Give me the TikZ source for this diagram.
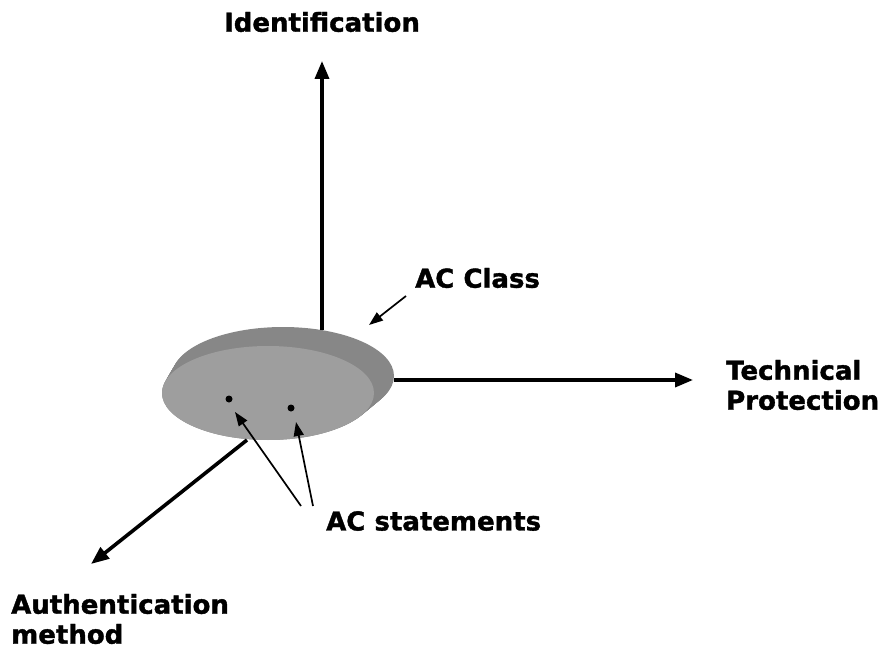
\documentclass[tikz,border=0pt]{standalone}
\usepackage{fontspec}
\setmainfont{DejaVu Sans}
\newfontfamily\heavyfont[FakeBold=1.4]{DejaVu Sans Bold}
\usetikzlibrary{arrows.meta}
\definecolor{rimgray}{HTML}{878787}
\definecolor{facegray}{HTML}{9E9E9E}
\begin{document}
\begin{tikzpicture}[x=1pt,y=-1pt,
  axis/.style={line width=3.6pt,-{Triangle[length=18pt,width=14pt]}},
  pointer/.style={line width=1.7pt,-{Triangle[length=14pt,width=10pt]}},
  lbl/.style={font=\fontsize{26}{30}\selectfont\heavyfont,inner sep=0pt},
  lblleft/.style={lbl,anchor=west,align=left}]
\useasboundingbox (0,0) rectangle (879,650);
% disk: dark rim swept from the back face to the front face, then the light front face
\foreach \t in {0,0.05,...,1.0001}
  \fill[rimgray] ({283-15*\t},{376+17*\t}) ellipse [x radius={111pt-5pt*\t}, y radius={49pt-2pt*\t}];
\fill[facegray] (268,393) ellipse [x radius=106pt, y radius=47pt];
% statement dots
\fill (229,399) circle [radius=3.5pt] coordinate (s1);
\fill (291,408) circle [radius=3.5pt] coordinate (s2);
% axis origins on the disk edge
\coordinate (oid) at (322,330);
\coordinate (otp) at (394,380);
\coordinate (oam) at (247,440);
\coordinate (tid) at (322,61);
\coordinate (ttp) at (693,380);
\coordinate (tam) at (91,564);
\draw[axis] (oid) -- (tid);
\draw[axis] (otp) -- (ttp);
\draw[axis] (oam) -- (tam);
% labels
\node[lbl] (id) at (322,22) {Identification};
\node[lblleft] (tp) at (726,385) {Technical\\Protection};
\node[lblleft] (am) at (11,619) {Authentication\\method};
\node[lbl,anchor=west] (acc) at (415,278) {AC Class};
\node[lbl,anchor=west] (acs) at (326,521) {AC statements};
% pointers
\coordinate (ca) at (406,296);
\coordinate (ct) at (369,325);
\draw[pointer] (ca) -- (ct);
\coordinate (sa) at (301,506);
\coordinate (sb) at (313,506);
\coordinate (ta) at (235,412);
\coordinate (tb) at (296,422);
\draw[pointer] (sa) -- (ta);
\draw[pointer] (sb) -- (tb);
\end{tikzpicture}
\end{document}
